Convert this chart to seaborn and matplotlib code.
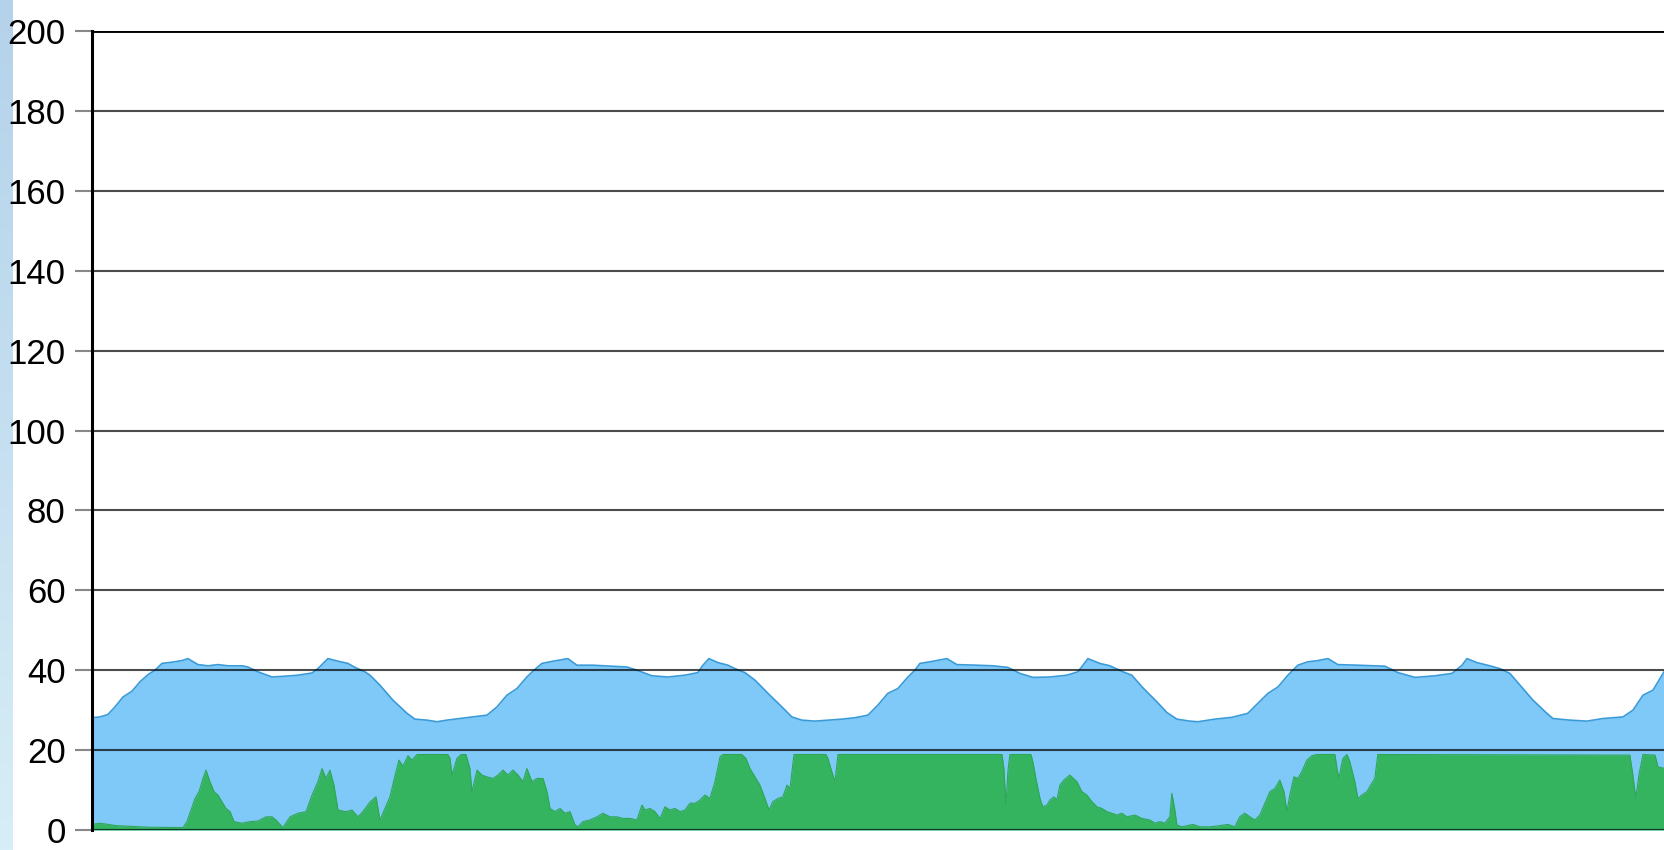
import matplotlib
matplotlib.use('Agg')
import matplotlib.pyplot as plt
import numpy as np
import pandas as pd
import seaborn as sns

# upper (blue) series: hours from start, value
upper_hours = [0.0, 0.5, 1.0, 1.45, 1.96, 2.53, 3.03, 3.54, 3.98, 4.42, 5.05, 5.68, 6.06, 6.7, 7.33,
               7.96, 8.59, 9.47, 9.85, 10.48, 11.37, 12.19, 13.01, 13.9, 14.27, 14.9, 15.54, 16.17,
               16.61, 17.24, 17.56, 18.19, 19.01, 19.9, 20.4, 21.16, 21.79, 22.42, 23.24, 24.06,
               24.95, 25.58, 26.21, 26.84, 27.47, 27.85, 28.42, 29.12, 30.06, 30.63, 31.64, 32.91,
               33.79, 34.42, 35.37, 36.38, 37.45, 38.27, 38.59, 38.97, 39.54, 40.17, 40.61, 41.24,
               41.88, 42.7, 43.58, 44.21, 44.84, 45.66, 46.48, 47.37, 48.19, 49.01, 49.64, 50.27,
               50.9, 51.54, 51.98, 52.3, 52.93, 54.0, 54.63, 55.9, 56.91, 57.85, 58.61, 59.43,
               60.51, 61.58, 62.28, 62.91, 63.66, 64.3, 65.12, 65.68, 66.38, 67.26, 67.9, 68.53,
               69.35, 69.86, 70.93, 72.0, 73.01, 73.64, 74.28, 74.91, 75.54, 76.17, 76.8, 77.43,
               78.07, 78.7, 79.96, 81.67, 82.49, 83.57, 84.83, 85.91, 86.54, 86.85, 87.48, 88.3,
               88.93, 89.56, 90.2, 91.02, 91.9, 92.28, 93.35, 94.43, 95.44, 96.7, 97.34, 97.97,
               98.6, 99.36]
upper_values = [28.1, 28.3, 28.9, 30.8, 33.3, 34.75, 37.1, 38.9, 40.0, 41.7, 42.0, 42.4, 42.9, 41.4, 41.1,
                41.4, 41.1, 41.1, 40.8, 39.6, 38.3, 38.5, 38.75, 39.3, 40.4, 42.9, 42.25, 41.7,
                40.7, 39.6, 38.75, 36.25, 32.5, 29.2, 27.75, 27.5, 27.1, 27.5, 27.9, 28.3,
                28.75, 30.8, 33.75, 35.4, 38.3, 39.75, 41.7, 42.25, 42.9, 41.25, 41.25, 41.0,
                40.8, 40.0, 38.6, 38.3, 38.75, 39.4, 41.25, 42.9, 41.9, 41.25, 40.4, 39.4,
                37.5, 34.2, 30.8, 28.3, 27.5, 27.25, 27.5, 27.75, 28.1, 28.75, 31.25, 34.2,
                35.4, 38.3, 40.0, 41.7, 42.1, 42.9, 41.4, 41.25, 41.1, 40.7, 39.2, 38.2,
                38.3, 38.75, 39.6, 42.9, 41.7, 41.1, 39.6, 38.75, 35.6, 32.1, 29.4, 27.75,
                27.25, 27.1, 27.75, 28.2, 29.2, 31.7, 34.2, 35.8, 38.75, 41.25, 42.1, 42.4,
                42.9, 41.4, 41.25, 41.0, 39.4, 38.2, 38.6, 39.2, 41.25, 42.9, 41.9, 41.1,
                40.4, 39.2, 36.25, 32.5, 29.2, 27.9, 27.5, 27.25, 27.9, 28.3, 30.0, 33.75,
                35.0, 40.0]

# lower (green) series
lower_hours = [0.0, 0.51, 1.01, 1.52, 2.53, 3.54, 5.5, 5.75, 6.0, 6.51, 6.76, 7.01, 7.2, 7.45, 7.71,
               7.96, 8.21, 8.46, 8.72, 8.97, 9.47, 9.98, 10.48, 10.99, 11.37, 11.62, 12.06, 12.51,
               13.01, 13.52, 13.9, 14.27, 14.53, 14.78, 15.03, 15.28, 15.54, 16.04, 16.42, 16.8,
               17.11, 17.56, 17.94, 18.19, 18.82, 19.07, 19.39, 19.64, 19.96, 20.21, 20.53, 22.48,
               22.61, 22.74, 23.05, 23.31, 23.62, 23.87, 24.0, 24.32, 24.63, 24.95, 25.33, 25.64,
               25.96, 26.27, 26.59, 26.91, 27.22, 27.47, 27.79, 28.11, 28.49, 28.74, 28.93, 29.24,
               29.56, 29.87, 30.19, 30.51, 30.7, 31.01, 31.45, 31.9, 32.27, 32.72, 33.16, 33.54,
               33.98, 34.42, 34.74, 34.93, 35.24, 35.56, 35.88, 36.19, 36.51, 36.82, 37.14, 37.45,
               37.77, 38.09, 38.4, 38.72, 39.03, 39.35, 39.67, 39.85, 41.05, 41.31, 41.56, 41.88,
               42.19, 42.51, 42.76, 43.01, 43.33, 43.64, 43.9, 44.09, 44.34, 46.36, 46.49, 46.67,
               46.93, 47.12, 57.48, 57.6, 57.73, 57.86, 57.98, 59.31, 59.43, 59.62, 59.88, 60.06,
               60.32, 60.51, 60.76, 60.95, 61.14, 61.39, 61.77, 62.21, 62.53, 62.84, 63.16, 63.48,
               63.79, 64.11, 64.42, 64.74, 65.05, 65.37, 65.88, 66.32, 66.82, 67.14, 67.45, 67.77,
               68.08, 68.21, 68.4, 68.53, 68.85, 69.54, 69.98, 70.61, 71.24, 71.75, 72.19, 72.5,
               72.82, 73.14, 73.45, 73.77, 74.09, 74.4, 74.72, 75.03, 75.29, 75.48, 75.66, 75.92,
               76.17, 76.42, 76.74, 77.06, 77.37, 78.51, 78.64, 78.76, 79.01, 79.27, 79.45, 79.77,
               79.96, 80.21, 80.53, 80.84, 81.03, 81.22, 97.14, 97.33, 97.52, 97.71, 97.97, 98.73,
               98.92, 99.36]
lower_values = [1.4, 1.7, 1.4, 1.1, 0.9, 0.7, 0.6, 0.6, 2.1, 7.9, 9.6, 12.9, 15.0, 12.1, 9.6,
                8.75, 7.1, 5.4, 4.6, 2.1, 1.7, 2.1, 2.25, 3.3, 3.3, 2.5, 0.6, 3.3,
                4.2, 4.6, 8.75, 12.1, 15.4, 12.9, 15.0, 11.25, 5.0, 4.6, 5.0, 3.3,
                4.6, 7.0, 8.3, 2.5, 8.3, 12.5, 17.5, 16.0, 18.6, 17.5, 18.9, 18.9,
                18.0, 13.75, 17.9, 18.9, 18.9, 15.4, 9.6, 15.0, 13.75, 13.3, 12.9, 13.75,
                15.0, 13.75, 15.0, 13.75, 12.1, 15.4, 12.1, 12.9, 12.9, 9.6, 5.4, 4.6,
                5.4, 4.2, 4.6, 1.25, 0.8, 2.1, 2.5, 3.3, 4.2, 3.3, 3.3, 2.9,
                2.9, 2.5, 6.25, 5.0, 5.4, 4.6, 2.9, 5.8, 5.0, 5.4, 4.6, 5.0,
                6.7, 6.7, 7.5, 8.75, 7.9, 12.1, 18.3, 18.9, 18.9, 17.9, 15.4, 13.3,
                11.25, 7.9, 5.0, 7.1, 7.9, 8.3, 11.25, 10.4, 18.9, 18.9, 17.9, 15.4,
                12.1, 18.9, 18.9, 15.4, 6.25, 15.0, 18.9, 18.9, 17.1, 12.9, 7.9, 5.8,
                6.25, 7.5, 8.3, 7.5, 11.25, 12.5, 13.75, 12.1, 9.6, 8.75, 7.1, 5.8,
                5.4, 4.6, 4.2, 3.75, 4.2, 3.3, 3.75, 2.9, 2.5, 1.7, 2.1, 1.7,
                3.3, 9.2, 5.0, 1.25, 0.8, 1.4, 0.8, 0.8, 1.1, 1.4, 0.8, 3.3,
                4.2, 3.3, 2.5, 3.75, 6.7, 9.6, 10.4, 12.5, 9.6, 4.6, 8.75, 13.3,
                12.9, 14.6, 17.5, 18.6, 18.9, 18.9, 15.4, 12.9, 17.9, 18.9, 17.1, 12.1,
                7.9, 8.75, 9.6, 11.7, 12.9, 18.9, 18.75, 13.75, 7.9, 13.75, 18.9, 18.75,
                15.8, 15.4]

y_ticks = [0, 20, 40, 60, 80, 100, 120, 140, 160, 180, 200]

upper = pd.DataFrame({'hour': upper_hours, 'value': upper_values})
lower = pd.DataFrame({'hour': lower_hours, 'value': lower_values})

sns.set_style('white')
plt.rcParams['font.family'] = ['Liberation Sans', 'DejaVu Sans']

W, H = 1665, 850
fig = plt.figure(figsize=(W / 100, H / 100), dpi=100)
fig.patch.set_facecolor('white')

# light blue strip at the far left edge
strip = fig.add_axes([0, 0, 13 / W, 1])
grad = np.linspace(0, 1, 256).reshape(-1, 1)
strip.imshow(grad, aspect='auto', cmap=matplotlib.colors.LinearSegmentedColormap.from_list(
    'strip', ['#b4d2ea', '#c4dff0', '#d8eef6']), extent=[0, 1, 0, 1])
strip.axis('off')

ax = fig.add_axes([92 / W, 20 / H, 1 - 92 / W, 799 / H])

ax.fill_between(upper['hour'], 0, upper['value'], color='#7fc9f9', lw=0, zorder=1)
sns.lineplot(data=upper, x='hour', y='value', ax=ax, color='#3a9bd8', lw=1.2, zorder=2)
ax.fill_between(lower['hour'], 0, lower['value'], color='#34b45e', lw=0, zorder=3)
sns.lineplot(data=lower, x='hour', y='value', ax=ax, color='#2fa656', lw=0.8, zorder=4)

for yv in y_ticks[:-1]:
    ax.axhline(yv, color='black', lw=1.5, alpha=0.7, zorder=5)
ax.axhline(0, color='#0b3d2a', lw=2.2, alpha=0.8, zorder=5)
ax.axhline(200, color='black', lw=2.8, zorder=5)

ax.set_xlim(0, 99.36)
ax.set_ylim(0, 200)
ax.set_yticks(y_ticks)
ax.set_xticks([])
ax.set_xlabel('')
ax.set_ylabel('')
ax.tick_params(axis='y', length=12, width=1.5, color='#888888', labelsize=25, pad=7,
               labelcolor='black', left=True)
for s in ['top', 'right', 'bottom']:
    ax.spines[s].set_visible(False)
ax.spines['left'].set_color('black')
ax.spines['left'].set_linewidth(2.2)
ax.spines['left'].set_zorder(6)

fig.savefig('out.png', dpi=100)
